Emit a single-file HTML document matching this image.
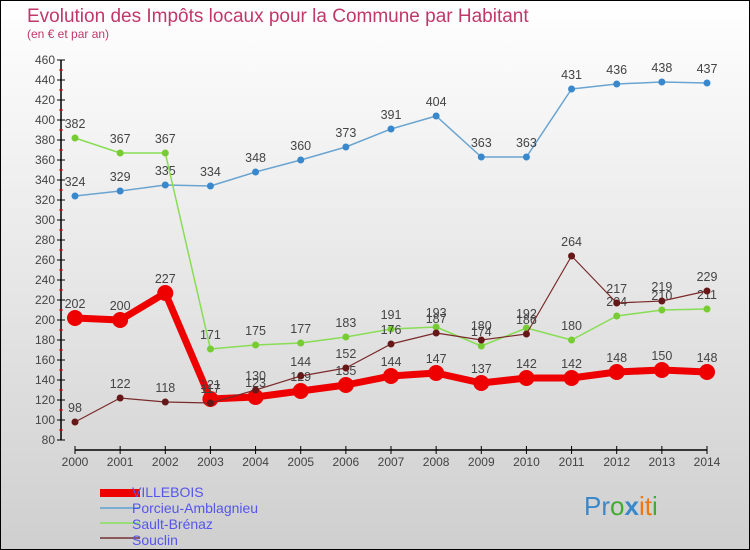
<!DOCTYPE html>
<html><head><meta charset="utf-8"><style>
body{margin:0;width:750px;height:550px;overflow:hidden}
svg{display:block}
</style></head><body>
<svg id="c" width="750" height="550" xmlns="http://www.w3.org/2000/svg" font-family="'Liberation Sans', sans-serif">
<defs><linearGradient id="bg" x1="0" y1="0" x2="0" y2="1"><stop offset="0" stop-color="#ffffff"/><stop offset="1" stop-color="#cfcfcf"/></linearGradient></defs>
<rect x="0.5" y="0.5" width="749" height="549" fill="url(#bg)" stroke="#000"/>
<text x="27" y="22" font-size="19" fill="#c0386a">Evolution des Impôts locaux pour la Commune par Habitant</text>
<text x="27" y="38" font-size="12" fill="#c0386a">(en € et par an)</text>
<g id="axes"></g><g id="series"></g>
<g font-size="14" fill="#5555ee">
<rect x="100" y="489" width="40" height="8" fill="#ee0000"/>
<text x="132" y="497">VILLEBOIS</text>
<rect x="100" y="507" width="40" height="2" fill="#7aaed0"/>
<text x="132" y="513">Porcieu-Amblagnieu</text>
<rect x="100" y="522" width="40" height="2" fill="#99dd77"/>
<text x="132" y="529">Sault-Brénaz</text>
<rect x="100" y="537" width="40" height="2" fill="#8a5a5a"/>
<text x="132" y="545">Souclin</text>
</g>
<g font-size="26">
<text x="584" y="515"><tspan fill="#3a88cc">Pr</tspan><tspan fill="#44aa33">o</tspan><tspan fill="#3a88cc" font-weight="bold">x</tspan><tspan fill="#ee7711">i</tspan><tspan fill="#ee7711">t</tspan><tspan fill="#44aa33">i</tspan></text>
</g>
</svg>
<script>
const years=[2000,2001,2002,2003,2004,2005,2006,2007,2008,2009,2010,2011,2012,2013,2014];
const villebois=[202,200,227,121,123,129,135,144,147,137,142,142,148,150,148];
const porcieu=[324,329,335,334,348,360,373,391,404,363,363,431,436,438,437];
const sault=[382,367,367,171,175,177,183,191,193,174,192,180,204,210,211];
const souclin=[98,122,118,117,130,144,152,176,187,180,186,264,217,219,229];
const yTicks=[80,100,120,140,160,180,200,220,240,260,280,300,320,340,360,380,400,420,440,460];
const NS='http://www.w3.org/2000/svg';
const xs=i=>75+i*(707-75)/(years.length-1);
const ys=v=>440-(v-80)*(380/380);
function mk(t,a,p){const e=document.createElementNS(NS,t);for(const k in a)e.setAttribute(k,a[k]);p.appendChild(e);return e;}
const ax=document.getElementById('axes');
mk('line',{x1:61,y1:60,x2:61,y2:440,stroke:'#000','stroke-width':1.5},ax);
mk('line',{x1:xs(0),y1:450,x2:xs(14),y2:450,stroke:'#000','stroke-width':1.5},ax);
yTicks.forEach(v=>{const y=ys(v);
 mk('line',{x1:57,y1:y,x2:65,y2:y,stroke:'#000'},ax);
 if(v<460)mk('line',{x1:59,y1:y-10,x2:63,y2:y-10,stroke:'#e00'},ax);
 const t=mk('text',{x:55,y:y+4,'text-anchor':'end','font-size':12,fill:'#444'},ax);t.textContent=v;
 
 
});
years.forEach((yr,i)=>{const x=xs(i);
 mk('line',{x1:x,y1:446,x2:x,y2:454,stroke:'#000'},ax);
 const t=mk('text',{x:x,y:466,'text-anchor':'middle','font-size':12,fill:'#444'},ax);t.textContent=yr;
 
 
});
const sg=document.getElementById('series');
function draw(name,vals,col,w,r,dot){
 const g=mk('g',{},sg);
 
 
 mk('polyline',{points:vals.map((v,i)=>xs(i)+','+ys(v)).join(' '),fill:'none',stroke:col,'stroke-width':w,'stroke-linejoin':'round'},g);
 vals.forEach((v,i)=>{const c=mk('circle',{cx:xs(i),cy:ys(v),r:r,fill:dot},g);
  
  
  const t=mk('text',{x:xs(i),y:ys(v)-10,'text-anchor':'middle','font-size':12.5,fill:'#444'},g);t.textContent=v;
  
  
 });
}
draw('porcieu',porcieu,'#6aa4d0',1.5,3.5,'#3a88cc');
draw('sault',sault,'#88dd55',1.5,3.5,'#77cc33');
draw('villebois',villebois,'#ee0000',7,8,'#ee0000');
draw('souclin',souclin,'#7a2a2a',1.2,3.5,'#661818');
</script>
</body></html>
